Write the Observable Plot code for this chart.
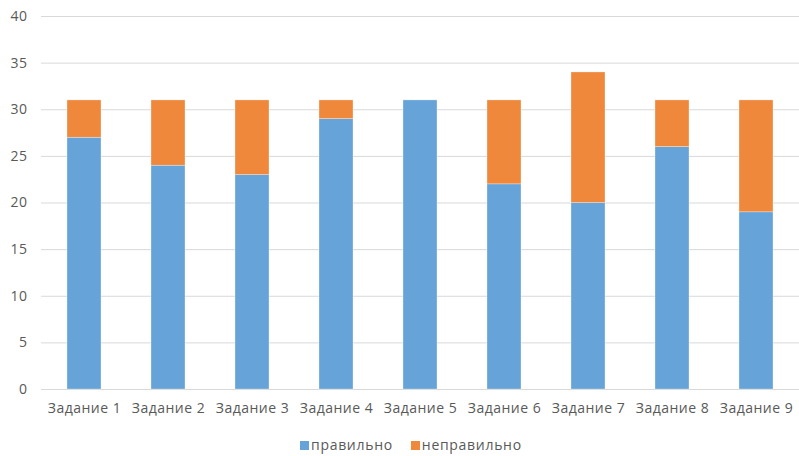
<!DOCTYPE html>
<html>
<head>
<meta charset="utf-8">
<script src="https://cdn.jsdelivr.net/npm/d3@7"></script>
<script src="https://cdn.jsdelivr.net/npm/@observablehq/plot@0.6"></script>
<style>
  body { margin: 0; background: #fff; font-family: "Open Sans", "DejaVu Sans", sans-serif; overflow: hidden; }
  #chart { width: 799px; height: 456px; position: relative; }
  #legend { position: absolute; top: 437px; left: 300px; display: flex; align-items: center; font-size: 14px; line-height: 16px; color: #595959; letter-spacing: 0.7px; }
  .sw { display: inline-block; width: 9px; height: 9px; margin-right: 2px; }
  .item { display: flex; align-items: center; margin-right: 18px; }
</style>
</head>
<body>
<div id="chart"></div>
<script>
const tasks = ["Задание 1","Задание 2","Задание 3","Задание 4","Задание 5","Задание 6","Задание 7","Задание 8","Задание 9"];
const correct = [27, 24, 23, 29, 31, 22, 20, 26, 19];
const incorrect = [4, 7, 8, 2, 0, 9, 14, 5, 12];
const seriesNames = ["правильно", "неправильно"];
const seriesColors = ["#66A3D9", "#EF883B"];
const yTicks = [0, 5, 10, 15, 20, 25, 30, 35, 40];

const data = [];
tasks.forEach((t, i) => {
  data.push({task: t, series: seriesNames[0], value: correct[i]});
  data.push({task: t, series: seriesNames[1], value: incorrect[i]});
});

const plot = Plot.plot({
  width: 799,
  height: 430,
  marginLeft: 41,
  marginRight: 0,
  marginTop: 16,
  marginBottom: 41,
  style: {fontFamily: '"Open Sans", "DejaVu Sans", sans-serif', fontSize: "14px", color: "#595959", background: "#fff", letterSpacing: "0.5px"},
  x: {domain: tasks, paddingInner: 0.6, paddingOuter: 0.3, label: null},
  y: {domain: [0, 40], label: null},
  color: {domain: seriesNames, range: seriesColors},
  marks: [
    Plot.ruleY(yTicks, {stroke: "#d9d9d9", strokeWidth: 1}),
    Plot.barY(data, Plot.stackY({x: "task", y: "value", fill: "series", order: seriesNames, stroke: "#fff", strokeOpacity: 0.5, strokeWidth: 0.6})),
    Plot.axisY({ticks: yTicks, tickSize: 0, tickPadding: 14, fill: "#595959", fontSize: 14}),
    Plot.axisX({tickSize: 0, tickPadding: 14, fill: "#595959", fontSize: 14})
  ]
});
document.getElementById("chart").appendChild(plot);

const legend = document.createElement("div");
legend.id = "legend";
seriesNames.forEach((n, i) => {
  const it = document.createElement("span");
  it.className = "item";
  const sw = document.createElement("span");
  sw.className = "sw";
  sw.style.background = seriesColors[i];
  it.appendChild(sw);
  it.appendChild(document.createTextNode(n));
  legend.appendChild(it);
});
document.getElementById("chart").appendChild(legend);
</script>
</body>
</html>
